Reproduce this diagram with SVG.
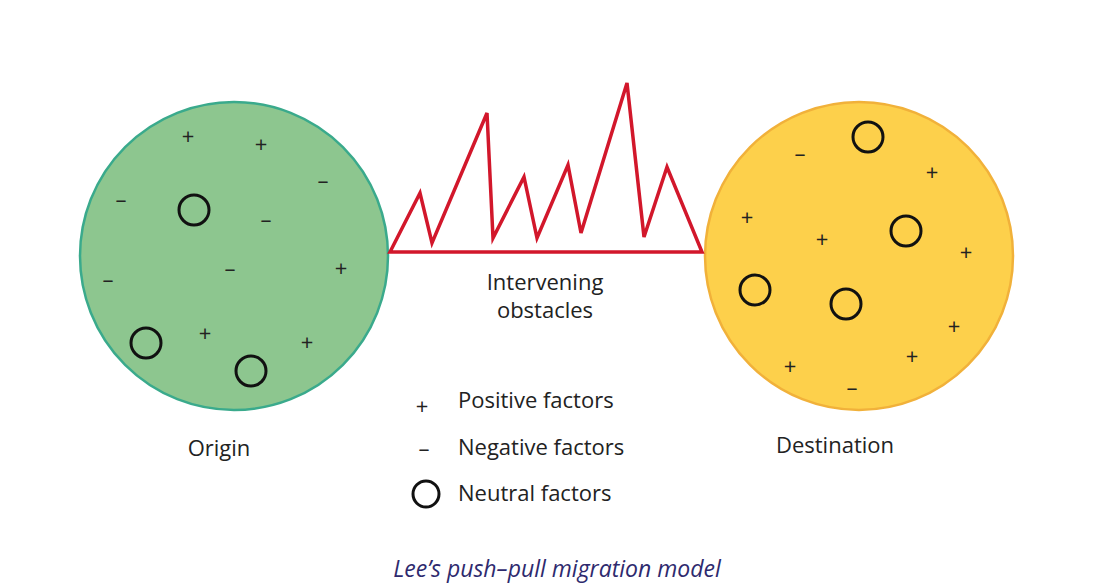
<svg xmlns="http://www.w3.org/2000/svg" width="1112" height="587" viewBox="0 0 1112 587">
<style>
text{font-family:"Open Sans","Liberation Sans",sans-serif;fill:#222}
.s{font-size:22px;text-anchor:middle}
.l{font-size:22px}
.n{fill:none;stroke:#111;stroke-width:3}
</style>
<rect width="1112" height="587" fill="#fff"/>
<g id="origin">
<circle cx="234" cy="256" r="154" fill="#8dc68f" stroke="#3aaa8c" stroke-width="2.5"/>
<text class="s" x="188" y="144">+</text><text class="s" x="261" y="152">+</text>
<text class="s" x="323" y="188">–</text><text class="s" x="121" y="207">–</text>
<text class="s" x="266" y="227">–</text><text class="s" x="230" y="276">–</text>
<text class="s" x="108" y="287">–</text><text class="s" x="341" y="276">+</text>
<text class="s" x="205" y="341">+</text><text class="s" x="307" y="350">+</text>
<circle class="n" cx="194" cy="210" r="15"/><circle class="n" cx="146" cy="343" r="15"/><circle class="n" cx="251" cy="371" r="15"/>
<text class="l" x="219" y="456" text-anchor="middle">Origin</text>
</g>
<g id="destination">
<circle cx="859" cy="256" r="154" fill="#fdd04b" stroke="#f1b13a" stroke-width="2.5"/>
<text class="s" x="800" y="161">–</text><text class="s" x="932" y="180">+</text>
<text class="s" x="747" y="225">+</text><text class="s" x="822" y="247">+</text>
<text class="s" x="966" y="260">+</text><text class="s" x="954" y="334">+</text>
<text class="s" x="912" y="364">+</text><text class="s" x="790" y="374">+</text>
<text class="s" x="852" y="395">–</text>
<circle class="n" cx="868" cy="137" r="15"/><circle class="n" cx="906" cy="231" r="15"/><circle class="n" cx="755" cy="290" r="15"/><circle class="n" cx="846" cy="304" r="15"/>
<text class="l" x="835" y="453" text-anchor="middle">Destination</text>
</g>
<g id="obstacles">
<polygon points="390,252 420,193 432,243 487,113 493,238 524,177 537,238 568,165 581,233 627,83 644,237 667,167 702,252" fill="none" stroke="#d2172b" stroke-width="3.5" stroke-linejoin="miter"/>
<text class="l" x="545" y="290" text-anchor="middle">Intervening</text>
<text class="l" x="545" y="318" text-anchor="middle">obstacles</text>
</g>
<g id="legend">
<text class="s" x="422" y="414">+</text><text class="l" x="458" y="408">Positive factors</text>
<text class="s" x="424" y="456">–</text><text class="l" x="458" y="455">Negative factors</text>
<circle class="n" cx="426" cy="494" r="13"/><text class="l" x="458" y="501">Neutral factors</text>
</g>
<g id="connectors"/>
<text x="557" y="577" text-anchor="middle" font-size="23" font-style="italic" style="fill:#2e2a6e">Lee’s push–pull migration model</text>
</svg>
